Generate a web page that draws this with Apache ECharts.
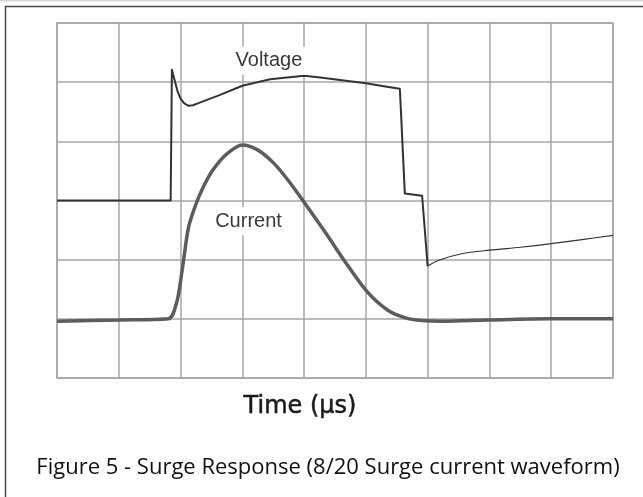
<!DOCTYPE html>
<html>
<head>
<meta charset="utf-8">
<script src="https://cdn.jsdelivr.net/npm/echarts@6/dist/echarts.min.js"></script>
<style>
html,body{margin:0;padding:0;background:#fff;}
#chart{width:643px;height:497px;}
</style>
</head>
<body>
<div id="chart"></div>
<script>
// Time axis in grid divisions (0..9), amplitude in grid divisions (0..6)
const voltageX = [0, 1.84, 1.86, 1.90, 1.95, 2.00, 2.06, 2.13, 2.20, 2.30, 2.63, 3.0, 3.45, 4.0, 4.26, 5.0, 5.29, 5.55, 5.63, 5.91, 6.0];
const voltageY = [3, 3, 5.21, 5.05, 4.85, 4.72, 4.64, 4.60, 4.61, 4.65, 4.78, 4.94, 5.05, 5.11, 5.08, 4.98, 4.93, 4.89, 3.12, 3.08, 1.89];
const tailX = [6.0, 6.18, 6.55, 7.0, 7.5, 8.0, 8.5, 9.0];
const tailY = [1.89, 1.99, 2.10, 2.16, 2.21, 2.27, 2.34, 2.41];
const currentX = [0, 1.0, 1.80, 1.94, 2.02, 2.05, 2.13, 2.25, 2.36, 2.52, 2.74, 3.0, 3.24, 3.5, 3.75, 4.0, 4.37, 4.64, 5.02, 5.35, 5.63, 5.91, 6.24, 6.97, 7.98, 9.0];
const currentY = [0.96, 0.98, 1.0, 1.29, 1.78, 2.0, 2.55, 2.94, 3.21, 3.51, 3.78, 3.94, 3.86, 3.64, 3.33, 2.97, 2.42, 2.0, 1.46, 1.15, 1.02, 0.97, 0.96, 0.98, 1.0, 1.0];
const seriesNames = ['Voltage', 'Current'];
const labelPos = [[3.43, 5.36], [3.1, 2.65]];
const axisTitle = 'Time (μs)';
const caption = 'Figure 5 - Surge Response (8/20 Surge current waveform)';

const zip = (xs, ys) => xs.map((x, i) => [x, ys[i]]);
const gridColor = '#a6a6a6';

const chart = echarts.init(document.getElementById('chart'), null, {renderer: 'canvas'});
const labelStyle = {
  show: true, position: 'inside', fontFamily: 'Liberation Sans, Arial, sans-serif',
  fontSize: 20, color: '#3a3a3a', backgroundColor: '#fff', padding: [4, 3]
};
chart.setOption({
  animation: false,
  backgroundColor: '#fff',
  grid: {left: 57, right: 30, top: 23, bottom: 119, show: true, borderColor: gridColor, borderWidth: 1.5},
  xAxis: {
    type: 'value', min: 0, max: 9, interval: 1,
    axisLine: {show: false}, axisTick: {show: false}, axisLabel: {show: false},
    splitLine: {show: true, lineStyle: {color: gridColor, width: 1.5}}
  },
  yAxis: {
    type: 'value', min: 0, max: 6, interval: 1,
    axisLine: {show: false}, axisTick: {show: false}, axisLabel: {show: false},
    splitLine: {show: true, lineStyle: {color: gridColor, width: 1.5}}
  },
  series: [
    {
      name: seriesNames[1], type: 'line', data: zip(currentX, currentY), showSymbol: false,
      smooth: 0.3, lineStyle: {color: '#5c5c5c', width: 3.5}, z: 3,
      markPoint: {symbol: 'rect', symbolSize: 1, itemStyle: {color: 'rgba(0,0,0,0)'},
        label: Object.assign({}, labelStyle, {formatter: seriesNames[1]}),
        data: [{coord: labelPos[1]}]}
    },
    {
      name: seriesNames[0], type: 'line', data: zip(voltageX, voltageY), showSymbol: false,
      smooth: false, lineStyle: {color: '#333', width: 2, join: 'round'}, z: 4,
      markPoint: {symbol: 'rect', symbolSize: 1, itemStyle: {color: 'rgba(0,0,0,0)'},
        label: Object.assign({}, labelStyle, {formatter: seriesNames[0]}),
        data: [{coord: labelPos[0]}]}
    },
    {
      name: seriesNames[0] + ' tail', type: 'line', data: zip(tailX, tailY), showSymbol: false,
      smooth: 0.3, lineStyle: {color: '#333', width: 1.2}, z: 4
    }
  ],
  graphic: [
    {type: 'line', shape: {x1: 0, y1: 0.5, x2: 643, y2: 0.5}, style: {stroke: '#d8d8d8', lineWidth: 2}, silent: true},
    {type: 'rect', shape: {x: 5.5, y: 6.5, width: 700, height: 600}, style: {fill: 'none', stroke: '#4a4a4a', lineWidth: 1.5}, silent: true},
    {type: 'text', x: 300, y: 407, style: {text: axisTitle, fill: '#1a1a1a', font: '24px "DejaVu Sans", sans-serif', align: 'center', verticalAlign: 'middle', stroke: '#1a1a1a', lineWidth: 0.5}, silent: true},
    {type: 'text', x: 328, y: 468, style: {text: caption, fill: '#111', font: '22px "Open Sans", "Noto Sans", sans-serif', align: 'center', verticalAlign: 'middle'}, silent: true}
  ]
});
</script>
</body>
</html>
